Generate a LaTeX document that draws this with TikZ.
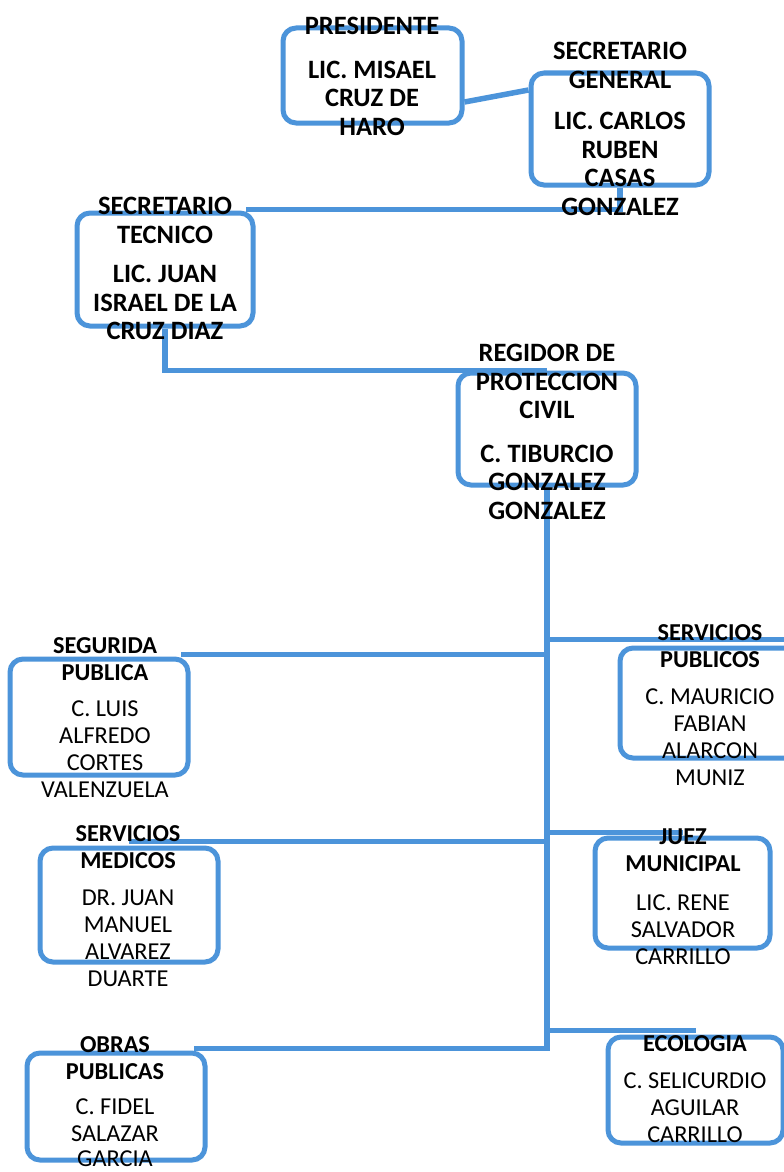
\documentclass[tikz,border=0pt]{standalone}
\usepackage{fontspec}
\setmainfont{Carlito}
\usetikzlibrary{calc}
\definecolor{oblue}{RGB}{76,148,218}
\pgfdeclarelayer{bg}
\pgfsetlayers{bg,main}
\begin{document}
\begin{tikzpicture}[x=1pt,y=-1pt,
 box/.style={draw=oblue,line width=5pt,rounded corners=13pt,fill=white,inner sep=0pt},
 conn/.style={draw=oblue,line width=5.5pt},
 top/.style={font=\fontsize{26.5}{28.5}\selectfont\bfseries,align=center,inner sep=0pt,anchor=north},
 low/.style={font=\fontsize{24.3}{27}\selectfont,align=center,inner sep=0pt,anchor=north}]
\useasboundingbox (0,0) rectangle (784,1172);

% boxes
\node[box,minimum width=179pt,minimum height=95pt] (p) at (372.5,75.5) {};
\node[box,minimum width=178pt,minimum height=112pt] (sg) at (620,129) {};
\node[box,minimum width=176pt,minimum height=113pt] (st) at (165,269.5) {};
\node[box,minimum width=178pt,minimum height=112pt] (rg) at (547,429) {};
\node[box,minimum width=178pt,minimum height=116pt] (seg) at (99,717) {};
\node[box,minimum width=180pt,minimum height=110pt] (sp) at (710,703) {};
\node[box,minimum width=178pt,minimum height=114pt] (sm) at (129,905) {};
\node[box,minimum width=175pt,minimum height=110pt] (jz) at (682.5,893) {};
\node[box,minimum width=178pt,minimum height=107pt] (ob) at (116,1106.5) {};
\node[box,minimum width=175pt,minimum height=106pt] (ec) at (695.5,1090) {};

% connectors
\begin{pgfonlayer}{bg}
\draw[conn] (p.east |- 0,102) -- (sg.west |- 0,90);
\draw[conn] (sg.south) |- ($(st.north east)+(-10,-1)$);
\draw[conn] (st.south) |- (rg.north);
\draw[conn] (rg.south) |- ($(ob.north east)+(-14,-2)$);
\draw[conn] ($(seg.north -| rg.south)+(0,-2)$) -- ($(seg.north east)+(-10,-2)$);
\draw[conn] ($(sp.north -| rg.south)+(0,-6)$) -- ($(sp.north east)+(0,-6)$);
\draw[conn] ($(sm.north -| rg.south)+(0,-4)$) -- ($(sm.north)+(0,-4)$);
\draw[conn] ($(jz.north -| rg.south)+(0,-3)$) -- ($(jz.north)+(0,-3)$);
\draw[conn] ($(ec.north -| rg.south)+(0,-4)$) -- ($(ec.north)+(0,-4)$);
\end{pgfonlayer}

% texts
\node[top] (tp) at (372,17) {PRESIDENTE\\[15pt]LIC. MISAEL\\CRUZ DE\\HARO};
\node[top] (tsg) at (620,42) {SECRETARIO\\GENERAL\\[13pt]LIC. CARLOS\\RUBEN\\CASAS\\GONZALEZ};
\node[top] (tst) at (165,197) {SECRETARIO\\TECNICO\\[11pt]LIC. JUAN\\ISRAEL DE LA\\CRUZ DIAZ};
\node[top] (trg) at (547,344) {REGIDOR DE\\PROTECCION\\CIVIL\\[15pt]C. TIBURCIO\\GONZALEZ\\GONZALEZ};
\node[low] (tseg) at (105,637) {\textbf{SEGURIDA}\\\textbf{PUBLICA}\\[9pt]C. LUIS\\ALFREDO\\CORTES\\VALENZUELA};
\node[low] (tsp) at (710,624) {\textbf{SERVICIOS}\\\textbf{PUBLICOS}\\[10pt]C. MAURICIO\\FABIAN\\ALARCON\\MUNIZ};
\node[low] (tsm) at (128,825) {\textbf{SERVICIOS}\\\textbf{MEDICOS}\\[10pt]DR. JUAN\\MANUEL\\ALVAREZ\\DUARTE};
\node[low] (tjz) at (683,829) {\textbf{JUEZ}\\\textbf{MUNICIPAL}\\[12pt]LIC. RENE\\SALVADOR\\CARRILLO};
\node[low] (tob) at (115,1036) {\textbf{OBRAS}\\\textbf{PUBLICAS}\\[8pt]C. FIDEL\\SALAZAR\\[-1.5pt]GARCIA};
\node[low] (tec) at (695,1035) {\textbf{ECOLOGIA}\\[10pt]C. SELICURDIO\\AGUILAR\\CARRILLO};
\end{tikzpicture}
\end{document}
